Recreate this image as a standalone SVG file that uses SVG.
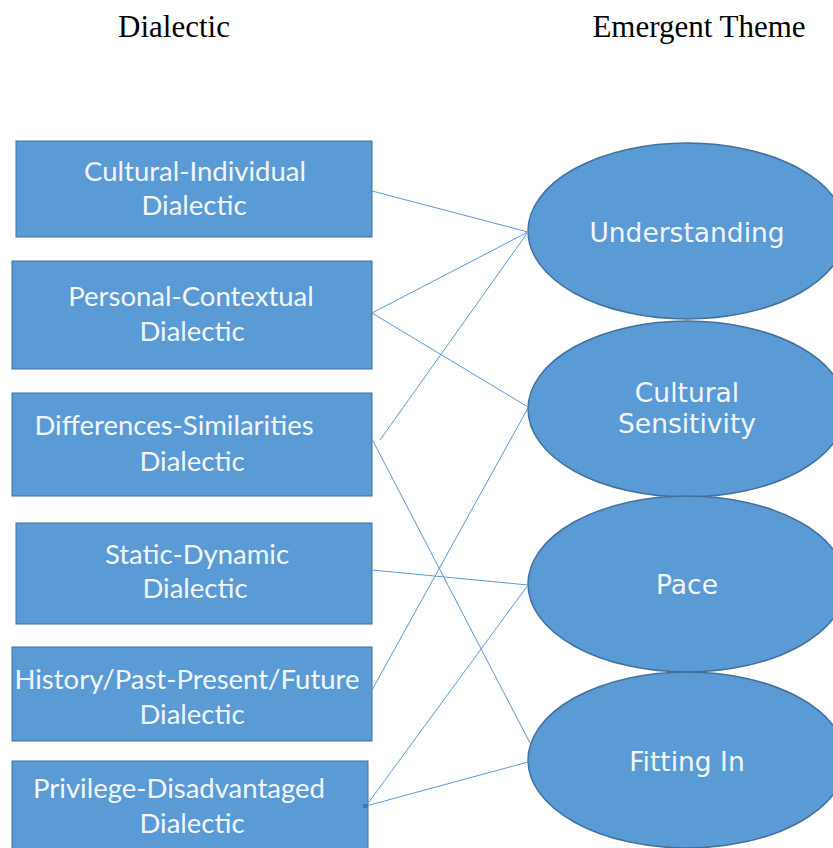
<svg xmlns="http://www.w3.org/2000/svg" width="833" height="848" viewBox="0 0 833 848">
<style>
.hdr{font-family:"Liberation Serif","Times New Roman",serif;font-size:31px;fill:#000;text-anchor:middle}
.box{fill:#5b9bd5;stroke:#41719c;stroke-width:1}
.bt{font-family:Lato,"Liberation Sans",sans-serif;font-size:27.5px;fill:#f2f6fb;text-anchor:middle}
.ell{fill:#5b9bd5;stroke:#41719c;stroke-width:1.5}
.et{font-family:"DejaVu Sans",Verdana,sans-serif;font-size:26.5px;fill:#f2f6fb;text-anchor:middle}
.con line{stroke:#5b9bd5;stroke-width:1;fill:none}
</style>
<rect width="833" height="848" fill="#fff"/>
<text class="hdr" x="174" y="37">Dialectic</text>
<text class="hdr" x="699" y="37">Emergent Theme</text>

<g id="n-cultural-individual"><rect class="box" x="16" y="141" width="356" height="96"/><text class="bt" x="195" y="181">Cultural-Individual</text><text class="bt" x="194" y="215">Dialectic</text></g>
<g id="n-personal-contextual"><rect class="box" x="12" y="261" width="360" height="108"/><text class="bt" x="191" y="306">Personal-Contextual</text><text class="bt" x="192" y="341">Dialectic</text></g>
<g id="n-differences-similarities"><rect class="box" x="12" y="393" width="360" height="103"/><text class="bt" x="174" y="435">Differences-Similarities</text><text class="bt" x="192" y="471">Dialectic</text></g>
<g id="n-static-dynamic"><rect class="box" x="16" y="523" width="356" height="101"/><text class="bt" x="197" y="564">Static-Dynamic</text><text class="bt" x="195" y="598">Dialectic</text></g>
<g id="n-history"><rect class="box" x="12" y="647" width="360" height="94"/><text class="bt" x="187" y="689">History/Past-Present/Future</text><text class="bt" x="192" y="724">Dialectic</text></g>
<g id="n-privilege"><rect class="box" x="12" y="761" width="356" height="95"/><text class="bt" x="179" y="798">Privilege-Disadvantaged</text><text class="bt" x="192" y="833">Dialectic</text></g>

<g id="n-understanding"><ellipse class="ell" cx="687" cy="231" rx="159" ry="88"/><text class="et" x="687" y="242">Understanding</text></g>
<g id="n-cultural-sensitivity"><ellipse class="ell" cx="687" cy="409" rx="159" ry="88"/><text class="et" x="687" y="402">Cultural</text><text class="et" x="687" y="433">Sensitivity</text></g>
<g id="n-pace"><ellipse class="ell" cx="687" cy="584" rx="159" ry="88"/><text class="et" x="687" y="594">Pace</text></g>
<g id="n-fitting-in"><ellipse class="ell" cx="687" cy="760" rx="159" ry="88"/><text class="et" x="687" y="771">Fitting In</text></g>

<g id="connectors" class="con">
<line x1="372" y1="191" x2="528" y2="232"/>
<line x1="372" y1="313" x2="528" y2="232"/>
<line x1="372" y1="313" x2="528" y2="407"/>
<line x1="380" y1="440" x2="528" y2="232"/>
<line x1="372" y1="439" x2="530" y2="743"/>
<line x1="372" y1="570" x2="528" y2="585"/>
<line x1="372" y1="690" x2="528" y2="408"/>
<line x1="366" y1="806" x2="528" y2="585"/>
<line x1="366" y1="806" x2="528" y2="762"/>
<rect x="363" y="804" width="5" height="4" fill="#4472c4" stroke="none"/>
</g>
</svg>
